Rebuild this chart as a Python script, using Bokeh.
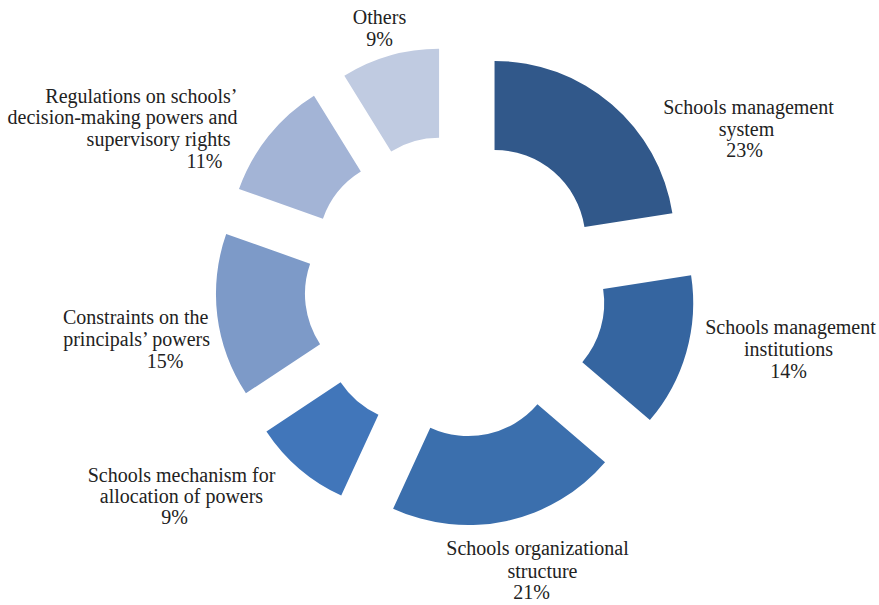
import numpy as np
from bokeh.plotting import figure
from bokeh.models import Range1d, ColumnDataSource
from bokeh.core.properties import value
from bokeh.embed import file_html
from bokeh.resources import INLINE

# ---- data ----
categories = [
    "Schools management system",
    "Schools management institutions",
    "Schools organizational structure",
    "Schools mechanism for allocation of powers",
    "Constraints on the principals' powers",
    "Regulations on schools' decision-making powers and supervisory rights",
    "Others",
]
shares = [23, 14, 21, 9, 15, 11, 9]
colors = ["#31588A", "#3565A0", "#3B6FAD", "#4176BA", "#7D9AC8", "#A3B4D6", "#C0CBE1"]

label_lines = [
    ["Schools management", "system", "23%"],
    ["Schools management", "institutions", "14%"],
    ["Schools organizational", "structure", "21%"],
    ["Schools mechanism for", "allocation of powers", "9%"],
    ["Constraints on the", "principals\u2019 powers", "15%"],
    ["Regulations on schools\u2019", "decision-making powers and", "supervisory rights", "11%"],
    ["Others", "9%"],
]

# ---- layout (pixel positions of the label lines in the picture) ----
W, H = 879, 605
label_anchor = [
    [(748, 113, "center"), (746, 135, "center"), (744, 156, "center")],
    [(790, 333, "center"), (788, 355, "center"), (788, 377, "center")],
    [(537, 554, "center"), (542, 577, "center"), (531, 598, "center")],
    [(181, 481, "center"), (181, 502, "center"), (174, 523, "center")],
    [(208, 323, "right"), (211, 345, "right"), (183, 367, "right")],
    [(237, 102, "right"), (237, 123, "right"), (230, 145, "right"), (222, 167, "right")],
    [(379, 23, "center"), (379, 45, "center")],
]
text_dy = 7  # baseline correction for the renderer
cx_img, cy_img = 455, 286
r_in, r_out, explode = 91, 180, 60


def to_data(xi, yi):
    return xi, H - yi


cx, cy = to_data(cx_img, cy_img)

frac = np.array(shares, dtype=float) / np.sum(shares)
spans = frac * 2 * np.pi
start = np.pi / 2 - np.concatenate([[0], np.cumsum(spans)[:-1]])
end = start - spans
mid = (start + end) / 2
xs = cx + explode * np.cos(mid)
ys = cy + explode * np.sin(mid)

src = ColumnDataSource(dict(x=xs, y=ys, start=start, end=end, color=colors, cat=categories))

p = figure(width=W, height=H, x_range=Range1d(0, W), y_range=Range1d(0, H),
           output_backend="svg", toolbar_location=None, min_border=0)
p.axis.visible = False
p.grid.visible = False
p.outline_line_color = None
p.background_fill_color = "white"
p.border_fill_color = "white"

p.annular_wedge(x="x", y="y", inner_radius=r_in, outer_radius=r_out,
                start_angle="start", end_angle="end", direction="clock",
                fill_color="color", line_color=None, source=src)

groups = {}
for lines, anchors in zip(label_lines, label_anchor):
    for t, (xi, yi, al) in zip(lines, anchors):
        dx, dy = to_data(xi, yi - text_dy)
        g = groups.setdefault(al, dict(x=[], y=[], text=[]))
        g["x"].append(dx)
        g["y"].append(dy)
        g["text"].append(t)

for al, g in groups.items():
    p.text(x="x", y="y", text="text", source=ColumnDataSource(g),
           text_font=value("'Liberation Serif', 'Times New Roman', serif"),
           text_font_size="20px",
           text_align=al, text_baseline="alphabetic", text_color="#222222")

open("out.html", "w").write(file_html(p, INLINE))
